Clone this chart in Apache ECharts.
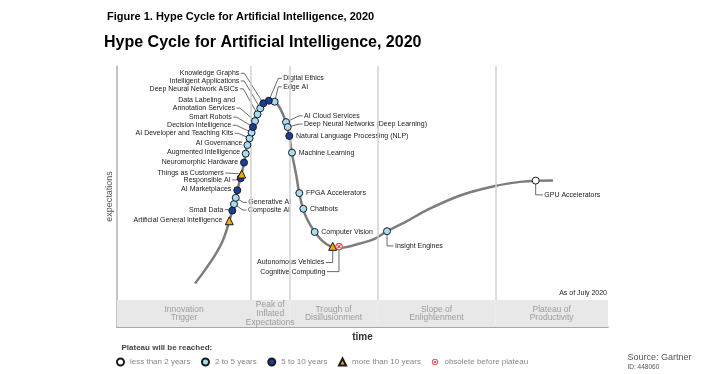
<!DOCTYPE html>
<html><head><meta charset="utf-8">
<script src="https://cdn.jsdelivr.net/npm/echarts@6/dist/echarts.min.js"></script>
<style>html,body{margin:0;padding:0;background:#fff}#c{width:702px;height:374px}</style>
</head><body><div id="c"></div>
<script>
// ---------- data ----------
const statusNames = ['less than 2 years','2 to 5 years','5 to 10 years','more than 10 years','obsolete before plateau'];
const techNames = [
 'Artificial General Intelligence','Small Data','Composite AI','Generative AI','AI Marketplaces',
 'Responsible AI','Things as Customers','Neuromorphic Hardware','Augmented Intelligence','AI Governance',
 'AI Developer and Teaching Kits','Decision Intelligence','Smart Robots','Data Labeling and\nAnnotation Services','Deep Neural Network ASICs',
 'Intelligent Applications','Knowledge Graphs','Digital Ethics','Edge AI','AI Cloud Services',
 'Deep Neural Networks (Deep Learning)','Natural Language Processing (NLP)','Machine Learning','FPGA Accelerators','Chatbots',
 'Computer Vision','Autonomous Vehicles','Cognitive Computing','Insight Engines','GPU Accelerators'
];
const techTime =   [22.87,23.48,23.83,24.18,24.50,25.19,25.40,25.87,26.21,26.56,27.00,27.41,27.70,28.11,28.62,29.18,29.80,30.92,32.10,34.42,34.77,35.09,35.64,37.13,37.94,40.26,43.93,45.21,54.99,85.27];
const techExpect = [40.7,44.6,47.1,49.5,52.4,57.0,58.6,63.0,66.4,69.7,72.3,74.5,76.6,78.9,81.5,83.8,85.7,86.7,86.3,78.5,76.6,73.2,66.8,51.3,45.3,36.4,30.9,30.8,36.7,56.1];
const techStatus = [3,2,1,1,2,2,3,2,1,1,1,1,2,1,1,1,2,2,1,1,1,2,1,1,1,1,3,4,1,0];
const curveTime =   [15.9,17.9,20.0,21.6,22.9,23.8,24.5,25.25,25.9,26.5,27.4,28.1,28.7,29.8,30.9,32.1,33.2,34.4,35.1,35.6,36.5,37.1,37.9,38.9,40.3,41.75,43.4,44.8,46.4,49.5,52.55,55.0,58.7,63.1,69.9,77.0,82.1,85.3,88.8];
const curveExpect = [16.7,21.8,27.6,33.3,40.7,47.1,52.4,57.85,63.0,69.7,74.5,78.9,82.2,85.6,86.8,86.3,83.9,78.5,73.2,66.8,58.2,51.3,45.3,40.6,36.4,33.1,31.0,30.3,30.5,32.0,33.9,36.7,40.2,44.8,50.4,54.0,55.6,56.05,56.1];
const phaseNames = ['Innovation\nTrigger','Peak of\nInflated\nExpectations','Trough of\nDisillusionment','Slope of\nEnlightenment','Plateau of\nProductivity'];
const phaseEdges = [0,27.3,35.1,53.1,77.05,100];

// ---------- layout (label offsets in px from the point: dx, dy, side, guide) ----------
const labelPos = [
 [-7,-1,'l','n'],[-9,-1,'l','d'],[14,6,'r','d'],[12.6,4.6,'r','d'],[-6,-1,'l','n'],
 [-10,1.7,'l','d'],[-18,-1,'l','d'],[-6,-0.7,'l','n'],[-5.5,-1.4,'l','n'],[-5,-1.7,'l','n'],
 [-16.3,-5,'l','d'],[-20.3,-7.3,'l','d'],[-21.3,-9.9,'l','d'],[-20,-17,'l','d'],[-19.2,-25.4,'l','d'],
 [-21,-27.3,'l','d'],[-24,-30,'l','d'],[14.5,-22.4,'r','d'],[8.7,-15,'r','d'],[18,-6.3,'r','d'],
 [16.3,-3,'r','d'],[6.7,0,'r','n'],[6.7,0,'r','n'],[6.7,0,'r','n'],[6.7,0,'r','n'],
 [6.6,0,'r','n'],[-8.4,16.2,'l','v'],[-13.7,25,'l','v'],[8,14.7,'r','v'],[8.6,14.3,'r','v']
];

const FONT = 'Arial, "Liberation Sans", Helvetica, sans-serif';
const obsoleteIcon = 'image://data:image/svg+xml;utf8,' + encodeURIComponent(
 '<svg xmlns="http://www.w3.org/2000/svg" width="20" height="20"><circle cx="10" cy="10" r="8" fill="white" stroke="#e3323c" stroke-width="2.6"/><path d="M6.3 6.3L13.7 13.7M13.7 6.3L6.3 13.7" stroke="#e3323c" stroke-width="2.6"/></svg>');
const statusStyle = [
 {symbol:'circle', size:7, color:'#ffffff'},
 {symbol:'circle', size:7, color:'#a9dcf3'},
 {symbol:'circle', size:7, color:'#1b3d9a'},
 {symbol:'triangle', size:8, color:'#f2a900'},
 {symbol:obsoleteIcon, size:8, color:'#e3323c'}
];

const scatterSeries = statusNames.map((nm, s) => ({
  type:'scatter', name:nm, z:5,
  symbol: statusStyle[s].symbol, symbolSize: statusStyle[s].size,
  itemStyle:{color:statusStyle[s].color, borderColor:'#1a1a1a', borderWidth: s===4?0:1, opacity:1},
  emphasis:{disabled:true}, silent:true,
  data: techNames.map((n,i)=> techStatus[i]===s ? [techTime[i], techExpect[i]] : null).filter(d=>d)
}));

const chart = echarts.init(document.getElementById('c'), null, {renderer:'canvas'});
chart.setOption({
  animation:false,
  title:[
    {text:'Figure 1. Hype Cycle for Artificial Intelligence, 2020', left:107, top:11, padding:0,
     textStyle:{fontFamily:FONT, fontSize:11, fontWeight:'bold', color:'#000'}},
    {text:'Hype Cycle for Artificial Intelligence, 2020', left:104, top:35, padding:0,
     textStyle:{fontFamily:FONT, fontSize:16, fontWeight:'bold', color:'#000'}},
    {text:'As of July 2020', right:95, top:289.5, padding:0,
     textStyle:{fontFamily:FONT, fontSize:7, fontWeight:'normal', color:'#222'}},
    {text:'Plateau will be reached:', left:121.5, top:344, padding:0,
     textStyle:{fontFamily:FONT, fontSize:8, fontWeight:'bold', color:'#444'}},
    {text:'Source: Gartner', left:627.5, top:353.5, padding:0,
     textStyle:{fontFamily:FONT, fontSize:9, fontWeight:'normal', color:'#555'}},
    {text:'ID: 448060', left:627.5, top:363.5, padding:0,
     textStyle:{fontFamily:FONT, fontSize:6.5, fontWeight:'normal', color:'#555'}}
  ],
  legend:{
    left:116, top:357.5, itemWidth:7, itemHeight:7, itemGap:10.5, padding:0,
    selectedMode:false,
    textStyle:{fontFamily:FONT, fontSize:8, color:'#888', padding:[0,0,0,1]},
    data: statusNames
  },
  grid:{left:117, right:94, top:66, bottom:47},
  xAxis:{type:'value', min:0, max:100, name:'time', nameLocation:'middle', nameGap:5,
    nameTextStyle:{fontFamily:FONT, fontSize:10, fontWeight:'bold', color:'#333', verticalAlign:'top'},
    axisLine:{show:true, lineStyle:{color:'#8a8a8a', width:1.5}}, axisTick:{show:false},
    axisLabel:{show:false}, splitLine:{show:false}},
  yAxis:{type:'value', min:0, max:100, name:'expectations', nameLocation:'middle', nameGap:3,
    nameTextStyle:{fontFamily:FONT, fontSize:9, color:'#555'},
    axisLine:{show:true, lineStyle:{color:'#b0b0b0', width:1.5}}, axisTick:{show:false},
    axisLabel:{show:false}, splitLine:{show:false}},
  series:[
    {type:'line', z:2, silent:true, smooth:0.35, symbol:'none',
     lineStyle:{color:'#7d7d7d', width:2.5}, emphasis:{disabled:true},
     data: curveTime.map((t,i)=>[t, curveExpect[i]]),
     markArea:{silent:true,
       label:{show:true, position:'inside', fontFamily:FONT, fontSize:8.5, lineHeight:8.7, color:'#9c9c9c'},
       itemStyle:{color:'#e8e8e8'},
       data: phaseNames.map((p,i)=>[{name:p, coord:[phaseEdges[i],0]},{coord:[phaseEdges[i+1],10.3]}])},
     markLine:{silent:true, symbol:'none', label:{show:false},
       lineStyle:{color:'#d2d2d2', width:1.5, type:'solid'},
       data: phaseEdges.slice(1,-1).map(e=>[{coord:[e,10.3]},{coord:[e,100]}])}
    },
    {type:'custom', z:3, silent:true, clip:false,
     data: techNames.map((n,i)=>[techTime[i], techExpect[i]]),
     renderItem(params, api){
       const i = params.dataIndex;
       const p = api.coord([api.value(0), api.value(1)]);
       const L = labelPos[i];
       const ax = p[0]+L[0], ay = p[1]+L[1];
       const multi = techNames[i].indexOf('\n')>=0;
       const ly = multi ? ay+4 : ay;
       const left = L[2]==='l';
       const children = [{type:'text', style:{x:ax, y:ay, text:techNames[i], fill:'#1a1a1a',
          fontFamily:FONT, fontSize:7, lineHeight:8, align:left?'right':'left', verticalAlign:'middle'}}];
       let pts = null;
       if (L[3]==='d') {
         const s = left ? 1 : -1;
         pts = [[ax+s*1.5, ly],[ax+s*5, ly], p];
       } else if (L[3]==='v') {
         const s = left ? 1 : -1;
         pts = [[ax+s*1.5, ly],[p[0], ly], p];
       }
       if (pts) children.push({type:'polyline', shape:{points:pts}, style:{stroke:'#444', lineWidth:0.8, fill:null}});
       return {type:'group', children};
     }
    }
  ].concat(scatterSeries)
});
</script></body></html>
